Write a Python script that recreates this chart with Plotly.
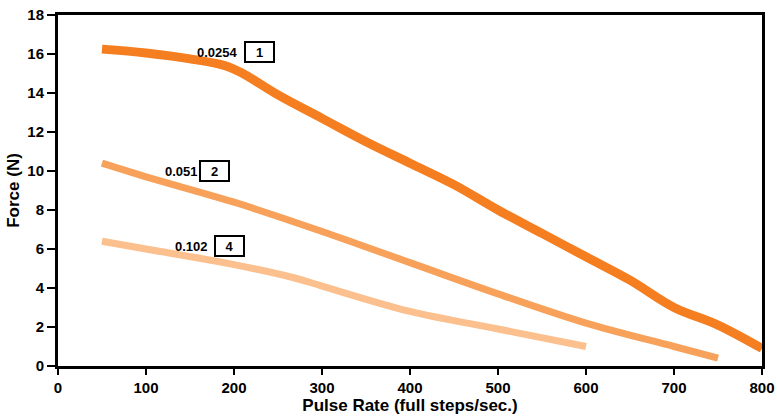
import plotly.graph_objects as go

x1 = [50, 100, 150, 190, 210, 250, 300, 350, 400, 450, 500, 550, 600, 650, 700, 750, 800]
y1 = [16.25, 16.05, 15.75, 15.4, 15.0, 13.9, 12.7, 11.5, 10.4, 9.3, 8.0, 6.8, 5.6, 4.4, 3.0, 2.1, 0.9]
x2 = [50, 100, 200, 300, 400, 500, 600, 700, 750]
y2 = [10.4, 9.7, 8.4, 6.9, 5.3, 3.7, 2.2, 1.0, 0.4]
x3 = [50, 100, 200, 270, 300, 400, 500, 600]
y3 = [6.4, 6.0, 5.2, 4.5, 4.1, 2.8, 1.9, 1.0]

labels = ["0.0254", "0.051", "0.102"]
boxes = ["1", "2", "4"]
label_pos = [(181, 16.1), (140, 10.0), (152, 6.15)]
box_pos = [(229, 16.1), (178, 10.0), (195, 6.15)]

colors = ["#F47E20", "#F7A15A", "#FBC08E"]
widths = [9, 7, 7]

fig = go.Figure()
for xs, ys, c, w in zip([x1, x2, x3], [y1, y2, y3], colors, widths):
    fig.add_trace(go.Scatter(x=xs, y=ys, mode="lines", line=dict(color=c, width=w, shape="spline", smoothing=1.0),
                             showlegend=False, hoverinfo="skip", cliponaxis=False))

font = "Liberation Sans, Arial, sans-serif"
for t, (ax, ay) in zip(labels, label_pos):
    fig.add_annotation(x=ax, y=ay, text=t, showarrow=False,
                       font=dict(family=font, size=13, color="black", weight="bold"))
for t, (ax, ay) in zip(boxes, box_pos):
    fig.add_annotation(x=ax, y=ay, text=t, showarrow=False, width=24,
                       bordercolor="black", borderwidth=2, borderpad=1.5,
                       font=dict(family=font, size=13, color="black", weight="bold"))

fig.update_layout(
    width=777, height=416,
    margin=dict(l=58, r=15, t=15, b=50, autoexpand=False),
    plot_bgcolor="white", paper_bgcolor="white",
    font=dict(family=font, color="black"),
    xaxis=dict(range=[0, 800], tickvals=[0, 100, 200, 300, 400, 500, 600, 700, 800], automargin=False,
               showgrid=False, zeroline=False, showline=True, mirror=True, linewidth=3, linecolor="black",
               ticks="outside", ticklen=6, tickwidth=2, tickcolor="black",
               tickfont=dict(family=font, size=15, color="black", weight="bold"),
               title=dict(text="Pulse Rate (full steps/sec.)", font=dict(family=font, size=17, weight="bold"), standoff=1)),
    yaxis=dict(range=[0, 18], tickvals=list(range(0, 19, 2)), automargin=False,
               showgrid=False, zeroline=False, showline=True, mirror=True, linewidth=3, linecolor="black",
               ticks="outside", ticklen=8, tickwidth=2, tickcolor="black",
               tickfont=dict(family=font, size=15, color="black", weight="bold"),
               title=dict(text="Force (N)", font=dict(family=font, size=17, weight="bold"), standoff=4)),
)

fig.write_html("out.html", config={"displayModeBar": False},
               post_script="document.body.style.margin='0';document.body.style.overflow='hidden';")
